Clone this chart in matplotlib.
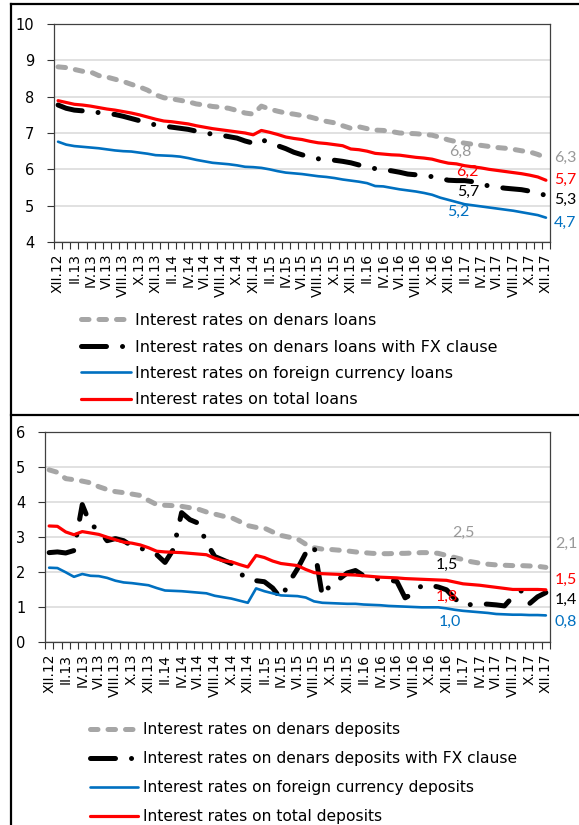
import numpy as np
import matplotlib
matplotlib.use('Agg')
import matplotlib.pyplot as plt
from matplotlib.lines import Line2D

# monthly data, XII.2012 - XII.2017
tick_labels = ['XII.12', 'II.13', 'IV.13', 'VI.13', 'VIII.13', 'X.13',
               'XII.13', 'II.14', 'IV.14', 'VI.14', 'VIII.14', 'X.14',
               'XII.14', 'II.15', 'IV.15', 'VI.15', 'VIII.15', 'X.15',
               'XII.15', 'II.16', 'IV.16', 'VI.16', 'VIII.16', 'X.16',
               'XII.16', 'II.17', 'IV.17', 'VI.17', 'VIII.17', 'X.17',
               'XII.17']

loans_denar = [8.82, 8.80, 8.75, 8.70, 8.68, 8.58, 8.54, 8.48, 8.42, 8.34,
               8.27, 8.18, 8.05, 7.97, 7.94, 7.90, 7.86, 7.80, 7.77, 7.73,
               7.71, 7.68, 7.62, 7.55, 7.52, 7.74, 7.66, 7.60, 7.55, 7.52,
               7.48, 7.44, 7.38, 7.32, 7.28, 7.20, 7.13, 7.17, 7.12, 7.08,
               7.07, 7.04, 7.00, 6.99, 6.98, 6.96, 6.94, 6.88, 6.81, 6.76,
               6.72, 6.69, 6.66, 6.63, 6.60, 6.58, 6.55, 6.51, 6.48, 6.41,
               6.32]
loans_fx_clause = [7.77, 7.68, 7.63, 7.61, 7.61, 7.56, 7.53, 7.51, 7.46, 7.40,
                   7.34, 7.28, 7.22, 7.19, 7.16, 7.13, 7.10, 7.05, 7.02, 6.96,
                   6.94, 6.90, 6.86, 6.78, 6.72, 6.83, 6.72, 6.65, 6.57, 6.47,
                   6.40, 6.34, 6.29, 6.27, 6.25, 6.22, 6.18, 6.12, 6.06, 6.02,
                   5.99, 5.96, 5.92, 5.87, 5.85, 5.82, 5.80, 5.75, 5.70, 5.69,
                   5.69, 5.66, 5.60, 5.54, 5.51, 5.48, 5.46, 5.44, 5.40, 5.35,
                   5.28]
loans_foreign = [6.76, 6.68, 6.64, 6.62, 6.60, 6.58, 6.55, 6.52, 6.50, 6.49,
                 6.46, 6.43, 6.39, 6.38, 6.37, 6.35, 6.31, 6.26, 6.22, 6.18,
                 6.16, 6.14, 6.11, 6.07, 6.06, 6.04, 6.00, 5.95, 5.91, 5.89,
                 5.87, 5.84, 5.81, 5.79, 5.76, 5.72, 5.69, 5.66, 5.62, 5.54,
                 5.53, 5.49, 5.45, 5.42, 5.39, 5.35, 5.30, 5.22, 5.16, 5.10,
                 5.04, 5.01, 4.98, 4.95, 4.92, 4.89, 4.86, 4.82, 4.78, 4.74,
                 4.67]
loans_total = [7.89, 7.84, 7.79, 7.77, 7.74, 7.70, 7.66, 7.63, 7.59, 7.55,
               7.50, 7.44, 7.38, 7.33, 7.31, 7.28, 7.25, 7.20, 7.16, 7.12,
               7.09, 7.06, 7.03, 7.00, 6.95, 7.07, 7.02, 6.96, 6.89, 6.85,
               6.82, 6.77, 6.73, 6.71, 6.68, 6.65, 6.56, 6.54, 6.50, 6.44,
               6.42, 6.40, 6.39, 6.36, 6.33, 6.31, 6.28, 6.22, 6.17, 6.15,
               6.10, 6.07, 6.04, 6.00, 5.97, 5.94, 5.91, 5.88, 5.84, 5.79,
               5.70]

dep_denar = [4.92, 4.85, 4.67, 4.64, 4.60, 4.55, 4.44, 4.36, 4.30, 4.27,
             4.23, 4.19, 4.05, 3.93, 3.91, 3.90, 3.88, 3.84, 3.80, 3.72,
             3.66, 3.60, 3.56, 3.45, 3.33, 3.28, 3.26, 3.15, 3.05, 3.00,
             2.95, 2.80, 2.70, 2.66, 2.65, 2.63, 2.61, 2.58, 2.56, 2.54,
             2.53, 2.53, 2.54, 2.54, 2.55, 2.56, 2.56, 2.54, 2.48, 2.42,
             2.36, 2.30, 2.26, 2.23, 2.21, 2.20, 2.19, 2.19, 2.18, 2.17,
             2.14]
dep_fx_clause = [2.56, 2.58, 2.55, 2.62, 3.93, 3.35, 3.22, 2.90, 2.96, 2.90,
                 2.75, 2.70, 2.58, 2.50, 2.28, 2.65, 3.70, 3.50, 3.40, 2.85,
                 2.45, 2.35, 2.25, 1.98, 1.80, 1.76, 1.73, 1.55, 1.25, 1.72,
                 2.10, 2.55, 2.75, 1.32, 1.65, 1.80, 1.98, 2.05, 1.90, 1.83,
                 1.80, 1.78, 1.74, 1.27, 1.40, 1.62, 1.63, 1.58, 1.50, 1.25,
                 1.06, 1.08, 1.10, 1.09, 1.07, 1.04, 1.30, 1.47, 1.10, 1.30,
                 1.42]
dep_foreign = [2.13, 2.12, 2.00, 1.87, 1.95, 1.90, 1.89, 1.84, 1.76, 1.71,
               1.69, 1.66, 1.63, 1.55, 1.48, 1.47, 1.46, 1.44, 1.42, 1.40,
               1.33, 1.29, 1.25, 1.19, 1.13, 1.54, 1.46, 1.40, 1.34, 1.33,
               1.32, 1.28, 1.17, 1.13, 1.12, 1.11, 1.10, 1.10, 1.08, 1.07,
               1.06, 1.04, 1.03, 1.02, 1.01, 1.00, 1.00, 1.00, 0.97, 0.93,
               0.90, 0.88, 0.86, 0.84, 0.81, 0.80, 0.79, 0.79, 0.78, 0.78,
               0.77]
dep_total = [3.32, 3.31, 3.15, 3.07, 3.16, 3.12, 3.08, 3.00, 2.93, 2.86,
             2.83, 2.78, 2.70, 2.60, 2.58, 2.57, 2.56, 2.54, 2.52, 2.50,
             2.40, 2.33, 2.30, 2.22, 2.15, 2.48, 2.42, 2.32, 2.25, 2.22,
             2.19, 2.08, 1.99, 1.96, 1.95, 1.94, 1.93, 1.92, 1.90, 1.88,
             1.86, 1.85, 1.84, 1.82, 1.81, 1.80, 1.79, 1.78, 1.77, 1.72,
             1.67, 1.65, 1.63, 1.60, 1.57, 1.54, 1.51, 1.51, 1.51, 1.51,
             1.50]

loan_names = ['Interest rates on denars loans',
              'Interest rates on denars loans with FX clause',
              'Interest rates on foreign currency loans',
              'Interest rates on total loans']
dep_names = ['Interest rates on denars deposits',
             'Interest rates on denars deposits with FX clause',
             'Interest rates on foreign currency deposits',
             'Interest rates on total deposits']

GREY, BLACK, BLUE, RED = '#a6a6a6', '#000000', '#0070c0', '#ff0000'
LABEL_COLORS = ['#999999', BLACK, BLUE, RED]
STYLES = [
    dict(color=GREY, lw=3.6, ls=(0, (1.5, 2.0)), dash_capstyle='round'),
    dict(color=BLACK, lw=3.6, ls=(0, (5.0, 3.2, 0.01, 3.2)), dash_capstyle='round'),
    dict(color=BLUE, lw=1.9, solid_capstyle='round'),
    dict(color=RED, lw=2.3, solid_capstyle='round'),
]

plt.rcParams['font.family'] = 'DejaVu Sans'
fig = plt.figure(figsize=(5.79, 8.25), dpi=100)
W, H = 579.0, 825.0


def fmt(v):
    return ('%.1f' % v).replace('.', ',')


def setup(ax, ylim):
    n = len(loans_denar)
    ax.set_xlim(-0.5, n - 0.5)
    ax.set_ylim(*ylim)
    ax.set_yticks(range(ylim[0], ylim[1] + 1))
    ax.set_xticks(range(0, n, 2))
    ax.set_xticklabels(tick_labels, rotation=90, fontsize=10)
    ax.set_xticks(np.arange(-0.5, n, 1), minor=True)
    ax.tick_params(axis='x', which='major', length=0, pad=8)
    ax.tick_params(axis='x', which='minor', length=5, width=0.8, color='#333333')
    ax.tick_params(axis='y', length=5, width=0.8, pad=9, labelsize=10.5,
                   color='#333333')
    ax.grid(axis='y', color='#d9d9d9', lw=1.1)
    ax.set_axisbelow(True)
    for s in ax.spines.values():
        s.set_color('#404040')
        s.set_linewidth(0.9)


def draw(ax, series, mid_off, end_off, names, leg):
    x = np.arange(len(series[0]))
    for s, st, name in zip(series, STYLES, names):
        ax.plot(x, s, label=name, **st)
    for s, c, off in zip(series, LABEL_COLORS, mid_off):
        ax.annotate(fmt(s[48]), xy=(48, s[48]), xytext=off,
                    textcoords='offset points', ha='center', va='center',
                    color=c, fontsize=11.5, family='Lato')
    for s, c, off in zip(series, LABEL_COLORS, end_off):
        ax.annotate(fmt(s[-1]), xy=(60, s[-1]), xytext=off,
                    textcoords='offset points', ha='center', va='center',
                    color=c, fontsize=11.5, family='Lato', annotation_clip=False)
    ax.legend(loc='upper left', bbox_transform=fig.transFigure, frameon=False,
              borderpad=0, borderaxespad=0, handletextpad=0.3, **leg)


# top panel: loans
ax1 = fig.add_axes([54 / W, 1 - 242 / H, 496 / W, 218 / H])
setup(ax1, (4, 10))
draw(ax1, [loans_denar, loans_fx_clause, loans_foreign, loans_total],
     mid_off=[(8.5, -8.7), (14.3, -8.5), (7, -8.5), (13.5, -6.4)],
     end_off=[(14, 0), (14, -3.2), (14, -3.9), (14, 0)],
     names=loan_names,
     leg=dict(bbox_to_anchor=(81 / W, 1 - 313 / H), fontsize=11.5,
              handlelength=3.1, labelspacing=0.72))

# bottom panel: deposits
ax2 = fig.add_axes([45 / W, 1 - 642.4 / H, 505 / W, 210.4 / H])
setup(ax2, (0, 6))
draw(ax2, [dep_denar, dep_fx_clause, dep_foreign, dep_total],
     mid_off=[(12, 16), (0, 17.9), (2.5, -9.6), (0, -12.2)],
     end_off=[(14.5, 17), (14.5, -5.3), (14.5, -4.5), (14.5, 7)],
     names=dep_names,
     leg=dict(bbox_to_anchor=(90 / W, 1 - 722 / H), fontsize=11.2,
              handlelength=3.1, labelspacing=0.91))

# frame lines of the original figure
for xs, ys in [((11 / W, 1), (1 - 4 / H, 1 - 4 / H)),
               ((11 / W, 11 / W), (1 - 4 / H, 0)),
               ((11 / W, 1), (1 - 415 / H, 1 - 415 / H))]:
    fig.add_artist(Line2D(xs, ys, color='black', lw=1.6))

fig.savefig('out.png', dpi=100)
